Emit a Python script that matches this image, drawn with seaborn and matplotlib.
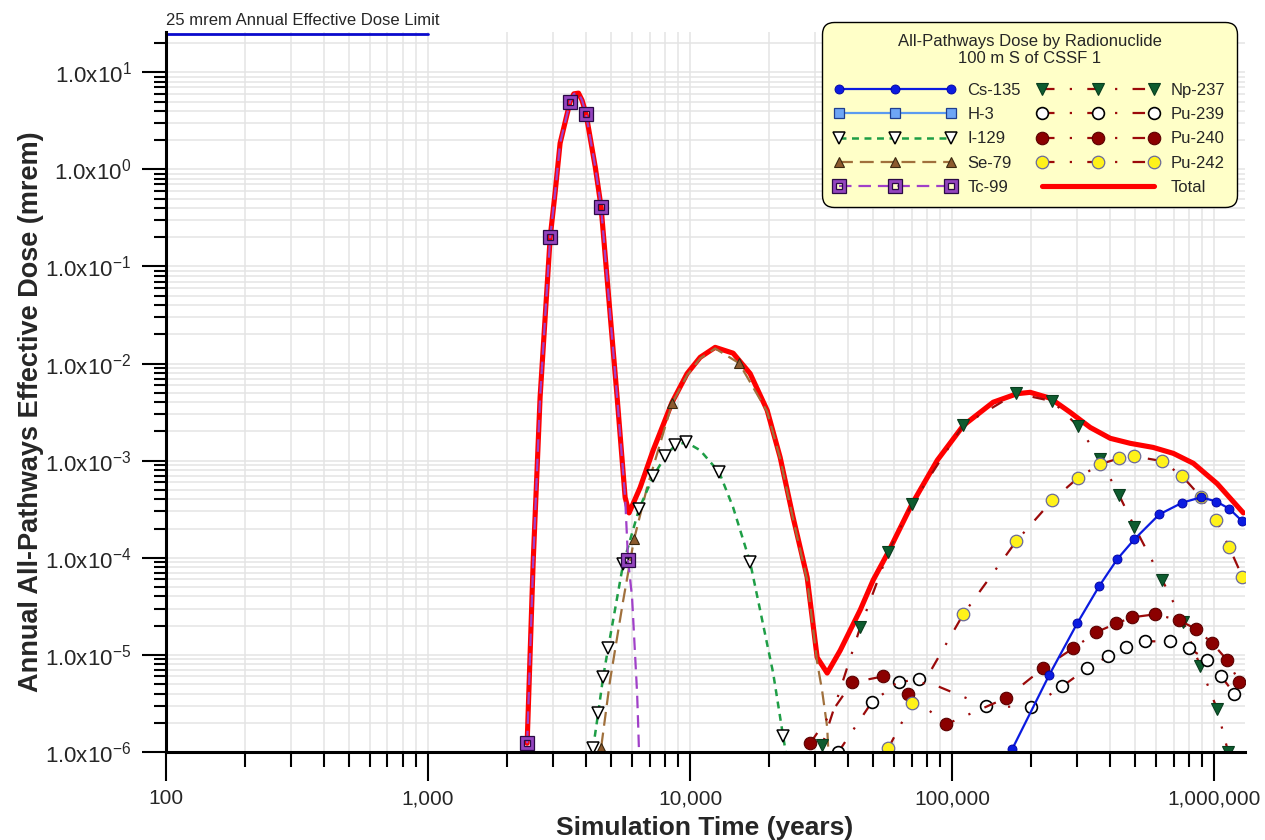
import numpy as np
import pandas as pd
import matplotlib
matplotlib.use("Agg")
import matplotlib.pyplot as plt
from matplotlib.ticker import FuncFormatter, LogLocator, NullFormatter, FixedLocator
import seaborn as sns

# ---- annual dose (mrem) versus simulation time (years) ----
total_t = [2388, 2517, 2676, 2924, 3052, 3190, 3483, 3600, 3750, 3869,
           4009, 4347, 4573, 5265, 5648, 5849, 6446, 7224, 8535, 9739,
           10920, 12460, 14590, 16940, 19680, 22060, 24720, 27960, 30530, 33340,
           37370, 44560, 49950, 56990, 70330, 87700, 110200, 143300, 177000, 198500,
           236600, 282000, 336300, 401000, 477700, 584600, 697700, 832000, 1026000, 1291000]
total_y = [1.23e-6, 8.8e-5, 4.5e-3, 0.20, 0.57, 1.86, 5.0, 6.0, 6.1, 5.15,
           3.7, 1.05, 0.41, 4.5e-3, 4.2e-4, 2.9e-4, 5.3e-4, 1.28e-3, 4.0e-3, 7.9e-3,
           0.0116, 0.0147, 0.0128, 7.9e-3, 3.3e-3, 1.08e-3, 2.6e-4, 6.3e-5, 9.4e-6, 6.5e-6,
           1.11e-5, 2.9e-5, 5.9e-5, 1.14e-4, 3.6e-4, 1.01e-3, 2.3e-3, 4.0e-3, 4.9e-3, 5.06e-3,
           4.4e-3, 3.15e-3, 2.2e-3, 1.70e-3, 1.51e-3, 1.37e-3, 1.19e-3, 9.4e-4, 5.8e-4, 2.9e-4]

cs135_t = [160000, 169400, 234500, 299800, 363700, 426600, 495400, 617000,
           755500, 891600, 1018000, 1141000, 1279000]
cs135_y = [7e-7, 1.07e-6, 6.2e-6, 2.11e-5, 5.1e-5, 9.7e-5, 1.55e-4, 2.8e-4,
           3.7e-4, 4.2e-4, 3.8e-4, 3.2e-4, 2.38e-4]

h3_t = []
h3_y = []

i129_t = [4180, 4264, 4456, 4656, 4864, 5550, 6390, 7228, 8035, 8770,
          9660, 10920, 12910, 14590, 16940, 18490, 20740, 22640, 23900]
i129_y = [8e-7, 1.1e-6, 2.5e-6, 5.9e-6, 1.17e-5, 8.6e-5, 3.2e-4, 6.9e-4, 1.11e-3, 1.44e-3,
          1.55e-3, 1.28e-3, 7.6e-4, 3.3e-4, 9.0e-5, 2.9e-5, 6.5e-6, 1.45e-6, 6e-7]

se79_t = [4480, 4571, 4950, 5550, 6110, 6850, 8535, 9739, 10920, 12460,
          15380, 19680, 22060, 24720, 27960, 30530, 31880, 33340, 33900]
se79_y = [7e-7, 1.09e-6, 5.5e-6, 3.6e-5, 1.55e-4, 5.3e-4, 3.9e-3, 7.6e-3, 0.0113, 0.0143,
          0.0101, 3.2e-3, 1.05e-3, 2.5e-4, 5.9e-5, 8.4e-6, 4.3e-6, 1.8e-6, 7e-7]

tc99_t = [2388, 2517, 2676, 2924, 3052, 3190, 3483, 3600, 3750, 3869,
          4009, 4347, 4573, 5265, 5648, 5795, 6004, 6276, 6331, 6420]
tc99_y = [1.23e-6, 8.8e-5, 4.5e-3, 0.20, 0.57, 1.86, 5.0, 6.0, 6.1, 5.15,
          3.7, 1.05, 0.41, 4.5e-3, 4.2e-4, 9.6e-5, 3.9e-5, 4.0e-6, 2.0e-6, 6e-7]

np237_t = [30500, 31880, 44560, 56990, 70330, 110200, 175400, 240900, 302700,
           367300, 433700, 495400, 633400, 762400, 885100, 1026000, 1130000, 1170000]
np237_y = [7e-7, 1.17e-6, 1.92e-5, 1.14e-4, 3.6e-4, 2.32e-3, 4.94e-3, 4.1e-3, 2.26e-3,
           1.03e-3, 4.4e-4, 2.1e-4, 5.9e-5, 2.17e-5, 7.6e-6, 2.75e-6, 1.0e-6, 6.5e-7]

pu239_t = [36700, 49500, 62800, 74860, 134800, 200300, 263200, 327600,
           393800, 461300, 545400, 679400, 803500, 940200, 1064000, 1192000]
pu239_y = [9.9e-7, 3.3e-6, 5.2e-6, 5.7e-6, 2.96e-6, 2.9e-6, 4.75e-6, 7.3e-6,
           9.7e-6, 1.2e-5, 1.38e-5, 1.38e-5, 1.17e-5, 8.8e-6, 6.0e-6, 4.0e-6]

pu240_t = [28700, 41500, 54500, 67900, 94900, 160700, 222300, 289500, 354500,
           422700, 486600, 596000, 735100, 853600, 982400, 1122000, 1245000]
pu240_y = [1.23e-6, 5.2e-6, 6.0e-6, 4.0e-6, 1.93e-6, 3.6e-6, 7.3e-6, 1.17e-5, 1.71e-5,
           2.11e-5, 2.44e-5, 2.62e-5, 2.27e-5, 1.84e-5, 1.32e-5, 8.8e-6, 5.3e-6]

pu242_t = [57000, 70330, 110200, 175400, 240900, 302700, 367300, 433700,
           495400, 633400, 755500, 891600, 1018000, 1141000, 1279000]
pu242_y = [1.09e-6, 3.2e-6, 2.62e-5, 1.48e-4, 3.9e-4, 6.7e-4, 9.2e-4, 1.06e-3,
           1.11e-3, 9.9e-4, 6.9e-4, 4.2e-4, 2.43e-4, 1.28e-4, 6.4e-5]

limit_t = [100, 1000]
limit_y = [25, 25]
limit_label = "25 mrem Annual Effective Dose Limit"

legend_title = "All-Pathways Dose by Radionuclide\n100 m S of CSSF 1"
x_ticks = [100, 1000, 10000, 100000, 1000000]
y_ticks = [1e-6, 1e-5, 1e-4, 1e-3, 1e-2, 1e-1, 1e0, 1e1]

# ---- style ----
sns.set_style("white")
plt.rcParams["font.family"] = ["Liberation Sans", "DejaVu Sans"]
plt.rcParams["mathtext.fontset"] = "custom"
plt.rcParams["mathtext.rm"] = "Liberation Sans"
plt.rcParams["mathtext.it"] = "Liberation Sans:italic"
plt.rcParams["mathtext.bf"] = "Liberation Sans:bold"
plt.rcParams["lines.scale_dashes"] = False

fig = plt.figure(figsize=(12.65, 8.4), dpi=100)
ax = fig.add_axes([166 / 1265, 1 - 752 / 840, (1245 - 166) / 1265, (752 - 32) / 840])
ax.set_xscale("log")
ax.set_yscale("log")

DARKRED = "#9B0A0A"
DASHDOT = (0, (9, 11, 1.6, 11))


def draw(t, y, color, lw, ls, z=3, **kw):
    df = pd.DataFrame({"t": t, "dose": y})
    sns.lineplot(data=df, x="t", y="dose", ax=ax, estimator=None, sort=False,
                 color=color, linewidth=lw, linestyle=ls, zorder=z,
                 legend=False, **kw)
    return ax.lines[-1]


# total underneath the individual radionuclides
h_total = draw(total_t, total_y, "#FF0000", 3.7, "-", z=2,
               solid_joinstyle="round", solid_capstyle="round")

tc_marks = [0, 3, 6, 10, 12, 15]
h_tc = draw(tc99_t, tc99_y, "#A040C8", 1.6, (0, (9, 5)), z=4,
            marker="s", markersize=7, markerfacecolor="none",
            markeredgecolor="#9344BE", markeredgewidth=2.5, markevery=tc_marks)
tc_df = pd.DataFrame({"t": tc99_t, "dose": tc99_y})
h_tc_out, = ax.plot(tc_df["t"], tc_df["dose"], linestyle="none", marker="s",
                    markersize=9.5, markerfacecolor="none", markeredgecolor="#2A0A45",
                    markeredgewidth=0.9, markevery=tc_marks, zorder=4.1)
h_tc_in, = ax.plot(tc_df["t"], tc_df["dose"], linestyle="none", marker="s",
                   markersize=4.5, markerfacecolor="none", markeredgecolor="#2A0A45",
                   markeredgewidth=0.9, markevery=tc_marks, zorder=4.1)

h_se = draw(se79_t, se79_y, "#A0703C", 1.6, (0, (10, 5)), z=3,
            marker="^", markersize=7, markerfacecolor="#8C5A2E",
            markeredgecolor="#3A2810", markeredgewidth=0.8,
            markevery=[1, 4, 6, 10])

h_i = draw(i129_t, i129_y, "#1E9E46", 1.8, (0, (5, 4)), z=3,
           marker="v", markersize=8, markerfacecolor="white",
           markeredgecolor="black", markeredgewidth=1.1,
           markevery=[1, 2, 3, 4, 5, 6, 7, 8, 9, 10, 12, 14, 17])

h_np = draw(np237_t, np237_y, DARKRED, 1.6, DASHDOT, z=3,
            marker="v", markersize=8, markerfacecolor="#0E5C2F",
            markeredgecolor="#083D1E", markeredgewidth=0.8)

h_pu239 = draw(pu239_t, pu239_y, DARKRED, 1.6, DASHDOT, z=3,
               marker="o", markersize=8.5, markerfacecolor="white",
               markeredgecolor="black", markeredgewidth=1.2)

h_pu240 = draw(pu240_t, pu240_y, DARKRED, 1.6, DASHDOT, z=3,
               marker="o", markersize=9, markerfacecolor="#8B0000",
               markeredgecolor="#5A0000", markeredgewidth=0.8)

h_pu242 = draw(pu242_t, pu242_y, DARKRED, 1.6, DASHDOT, z=3,
               marker="o", markersize=9, markerfacecolor="#FFF21A",
               markeredgecolor="#6A6A9A", markeredgewidth=0.9)

h_cs = draw(cs135_t, cs135_y, "#0B1BE0", 1.6, "-", z=3.5,
            marker="o", markersize=6.5, markerfacecolor="#0B1BE0",
            markeredgecolor="#0000A0", markeredgewidth=0.6,
            markevery=list(range(1, 13)))

h_h3, = ax.plot(h3_t, h3_y, color="#5B9BF0", linewidth=1.6, marker="s",
                markersize=7, markerfacecolor="#6EA6F5", markeredgecolor="#1F3F8F",
                markeredgewidth=0.9)

# dose limit line at the top of the plot
draw(limit_t, limit_y, "#0A0ACC", 2.0, "-", z=5, clip_on=False)
ax.annotate(limit_label, xy=(limit_t[0], limit_y[0]), xytext=(0, 4),
            textcoords="offset points", ha="left", va="bottom", fontsize=12,
            annotation_clip=False)

# ---- axes ----
ax.set_xlim(100, 1.31e6)
ax.set_ylim(1e-6, 26)
ax.xaxis.set_major_locator(FixedLocator(x_ticks))
ax.yaxis.set_major_locator(FixedLocator(y_ticks))
ax.xaxis.set_minor_locator(LogLocator(base=10, subs=np.arange(2, 10), numticks=20))
ax.yaxis.set_minor_locator(LogLocator(base=10, subs=np.arange(2, 10), numticks=20))
ax.xaxis.set_minor_formatter(NullFormatter())
ax.yaxis.set_minor_formatter(NullFormatter())
ax.xaxis.set_major_formatter(FuncFormatter(lambda v, p: f"{int(round(v)):,}"))
ax.yaxis.set_major_formatter(
    FuncFormatter(lambda v, p: f"1.0x10$^{{{int(round(np.log10(v)))}}}$"))

ax.grid(True, which="both", color="#E4E4E4", linewidth=1.1)
ax.set_axisbelow(True)
for s in ("top", "right"):
    ax.spines[s].set_visible(False)
for s in ("left", "bottom"):
    ax.spines[s].set_linewidth(2.2)
    ax.spines[s].set_color("black")
    ax.spines[s].set_zorder(6)

ax.tick_params(which="both", bottom=True, left=True, top=False, right=False)
ax.tick_params(axis="x", which="major", direction="out", length=21, width=1.5,
               pad=6, labelsize=15, color="black")
ax.tick_params(axis="x", which="minor", direction="out", length=11, width=1.5,
               color="black")
ax.tick_params(axis="y", which="major", direction="out", length=17, width=1.5,
               pad=8, labelsize=16, color="black")
ax.tick_params(axis="y", which="minor", direction="out", length=9, width=1.5,
               color="black")

ax.set_xlabel("Simulation Time (years)", fontsize=19, fontweight="bold")
ax.set_ylabel("Annual All-Pathways Effective Dose (mrem)", fontsize=19.5,
              fontweight="bold")
ax.xaxis.set_label_coords((705 - 166) / 1079, -(816 - 752) / 720)
ax.yaxis.set_label_coords(-(166 - 44) / 1079, (752 - 412) / 720)

# ---- legend ----
handles = [h_cs, h_h3, h_i, h_se, (h_tc, h_tc_out, h_tc_in),
           h_np, h_pu239, h_pu240, h_pu242, h_total]
labels = ["Cs-135", "H-3", "I-129", "Se-79", "Tc-99",
          "Np-237", "Pu-239", "Pu-240", "Pu-242", "Total"]
leg = ax.legend(handles, labels, ncol=2, loc="upper right",
                bbox_to_anchor=(1237 / 1265, 1 - 22 / 840),
                bbox_transform=fig.transFigure, borderaxespad=0,
                title=legend_title, title_fontsize=12, fontsize=12,
                numpoints=3, handlelength=7.3, handletextpad=0.7,
                columnspacing=1.0, labelspacing=0.56, borderpad=0.7,
                frameon=True, fancybox=True, facecolor="#FFFFC8",
                edgecolor="black", framealpha=1)
leg.get_frame().set_linewidth(1.0)
leg.get_frame().set_boxstyle("round", pad=0, rounding_size=0.7)
leg.get_title().set_multialignment("center")
leg._legend_box.sep = 12
leg.set_zorder(10)

fig.savefig("out.png", dpi=100, facecolor="white")
